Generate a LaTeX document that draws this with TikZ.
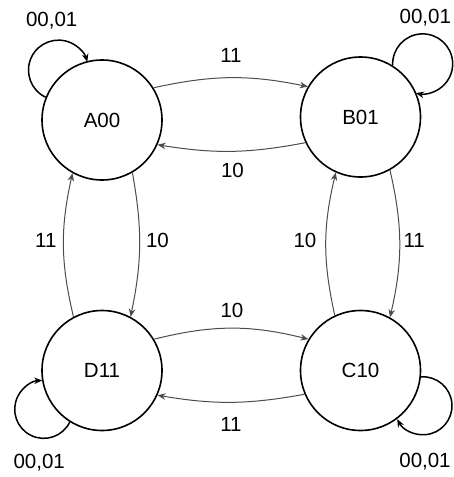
\documentclass[tikz,border=0pt]{standalone}
\usepackage{fontspec}
\setmainfont{Liberation Sans}
\usetikzlibrary{arrows.meta}
\begin{document}
\begin{tikzpicture}[x=1pt,y=-1pt,
  state/.style={draw=black,line width=1.6pt,circle,minimum size=120pt,inner sep=0pt,font=\fontsize{20.5}{23}\selectfont},
  lbl/.style={font=\fontsize{20.5}{23}\selectfont,inner sep=0pt},
  edge/.style={draw=black!70,line width=1pt,-{Stealth[length=8pt,width=6.5pt]}},
  selfloop/.style={draw=black,line width=1.5pt,-{Stealth[length=8pt,width=6.5pt]}}]
\useasboundingbox (0,0) rectangle (453,477);
\node[state] (A) at (102,120) {A00};
\node[state] (B) at (360.5,117) {B01};
\node[state] (D) at (102,370.5) {D11};
\node[state] (C) at (360.5,370.5) {C10};
% horizontal edges
\draw[edge] (A.32) to[bend left=12] (B.150);
\draw[edge] (B.205) to[bend left=10] (A.336);
\draw[edge] (D.31) to[bend left=14] (C.149);
\draw[edge] (C.203) to[bend left=10] (D.336);
% vertical edges
\draw[edge] (A.300) to[bend left=11] (D.62);
\draw[edge] (D.118) to[bend left=13] (A.241);
\draw[edge] (B.299) to[bend left=13] (C.61);
\draw[edge] (C.115) to[bend left=13] (B.246);
% self loops
\draw[selfloop] (A.158) arc[start angle=-244.6,end angle=-16,radius=30];
\draw[selfloop] (B.58) arc[start angle=-183,end angle=103,radius=30];
\draw[selfloop] (D.238) arc[start angle=26,end angle=267,radius=29];
\draw[selfloop] (C.354) arc[start angle=-94,end angle=152.6,radius=29];
% labels
\node[lbl] (lA) at (51.7,20.8) {00,01};
\node[lbl] (lB) at (425.3,17.5) {00,01};
\node[lbl] (lD) at (39.2,462.5) {00,01};
\node[lbl] (lC) at (425,461.7) {00,01};
\node[lbl] (lAB) at (231,55.8) {11};
\node[lbl] (lBA) at (232.5,170.8) {10};
\node[lbl] (lDC) at (232,310.8) {10};
\node[lbl] (lCD) at (231,424.2) {11};
\node[lbl] (lDA) at (45.8,240.3) {11};
\node[lbl] (lAD) at (157.5,240.3) {10};
\node[lbl] (lCB) at (305,240.3) {10};
\node[lbl] (lBC) at (414.2,240.3) {11};
\end{tikzpicture}
\end{document}
